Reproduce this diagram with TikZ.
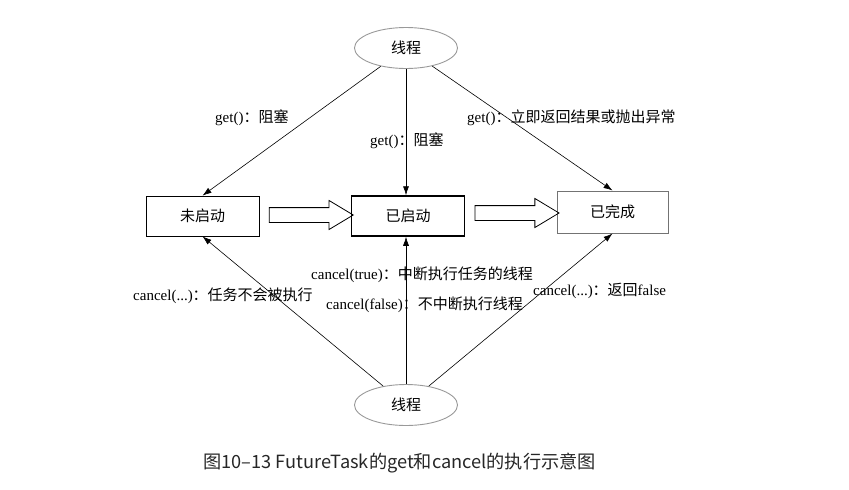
\documentclass[tikz,border=0pt]{standalone}
\usepackage{fontspec}
\setmainfont{Liberation Serif}
\newfontfamily\cjk{Noto Sans CJK SC}
\usetikzlibrary{shapes.geometric,shapes.arrows,arrows.meta,calc}
\begin{document}
\begin{tikzpicture}[x=1pt,y=-1pt,
  thread/.style={ellipse,draw=black!40,line width=0.9pt,minimum width=103,minimum height=41,inner sep=0,font=\fontsize{15}{17}\selectfont\cjk},
  state/.style={rectangle,draw=black,line width=0.8pt,minimum width=113,minimum height=40,inner sep=0,font=\fontsize{15}{17}\selectfont\cjk},
  conn/.style={line width=0.6pt,-{Latex[length=9,width=6]}},
  lab/.style={anchor=west,inner sep=0,font=\fontsize{15}{17}\selectfont},
  blockarrow/.style={single arrow,draw=black,line width=0.8pt,minimum height=84,minimum width=23,inner xsep=0,inner ysep=7,single arrow tip angle=62,single arrow head indent=0}]
\useasboundingbox (0,0) rectangle (849,490);
\node[thread] (t) at (406,48) {线程};
\node[thread] (b) at (406,405) {线程};
\node[state] (n1) at (202.5,216) {未启动};
\node[state,line width=1.5pt] (n2) at (408,216) {已启动};
\node[state,draw=black!55,line width=1pt,minimum width=111,minimum height=42] (n3) at (612.5,212) {已完成};
\node[blockarrow] (a1) at ($(n1.east)!0.5!(n2.west)+(0,-1)$) {};
\node[blockarrow] (a2) at ($(n2.east)!0.5!(n3.west)+(0,-1)$) {};
\draw[conn] (t) -- (n1.north);
\draw[conn] (t.south) -- (t.south |- n2.north);
\draw[conn] (t) -- (n3.north);
\draw[conn] (b) -- (n1.south);
\draw[conn] (b.north) -- (b.north |- n2.south);
\draw[conn] (b) -- (n3.south);
\node[lab] (l1) at (215,118) {get(){\cjk ：阻塞}};
\node[lab] (l2) at (370,141) {get(){\cjk ：阻塞}};
\node[lab] (l3) at (467,118) {get(){\cjk ：立即返回结果或抛出异常}};
\node[lab] (l4) at (133,296) {cancel(...){\cjk ：任务不会被执行}};
\node[lab] (l5) at (311,275) {cancel(true){\cjk ：中断执行任务的线程}};
\node[lab] (l6) at (326,305) {cancel(false){\cjk ：不中断执行线程}};
\node[lab] (l7) at (533,291) {cancel(...){\cjk ：返回}false};
\node[anchor=west,inner sep=0,text=black!85,font=\fontsize{18.2}{21}\selectfont\cjk] (cap) at (203,463) {图10–13 FutureTask的get和cancel的执行示意图};
\end{tikzpicture}
\end{document}
